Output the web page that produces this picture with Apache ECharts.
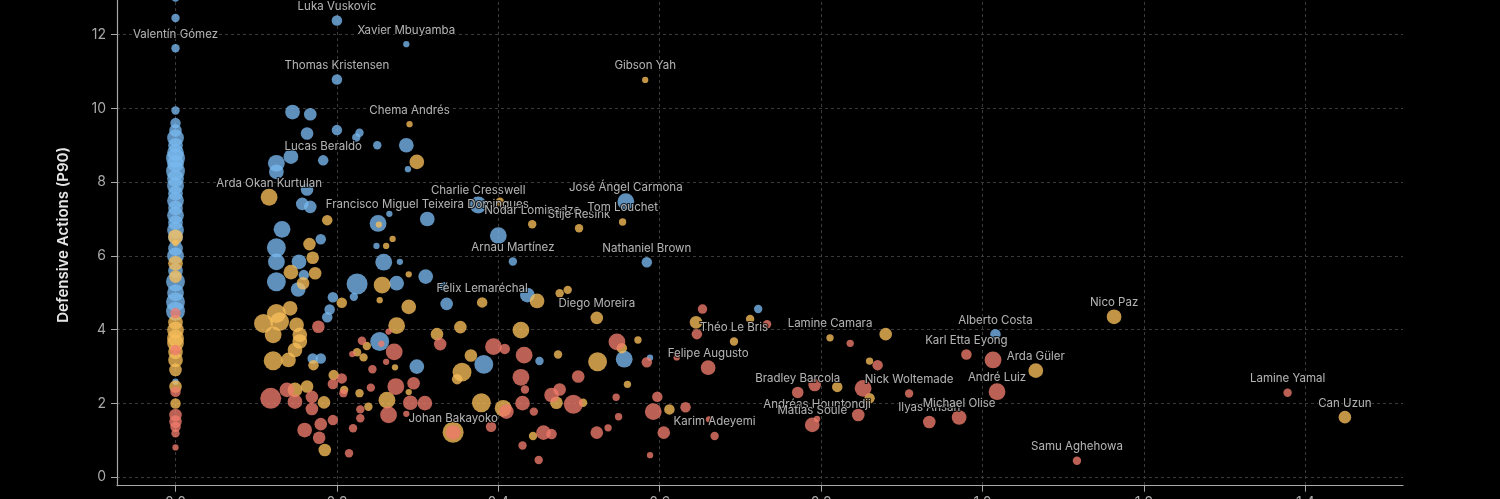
<!DOCTYPE html>
<html>
<head>
<meta charset="utf-8">
<script src="https://cdn.jsdelivr.net/npm/echarts@6/dist/echarts.min.js"></script>
<style>
    html, body { margin: 0; padding: 0; background: #000; width: 1500px; height: 499px; overflow: hidden; }
    .frame { position: absolute; left: 7px; top: -20px; width: 1484px; height: 600px;
             border-left: 1px solid #2a2a2a; border-right: 1px solid #474747; }
    #chartScatter { position: absolute; left: 0; top: -16px; width: 1500px; height: 515px; }
</style>
</head>
<body>
<div class="frame"></div>
<div id="chartScatter"></div>
<script>
    // [x, defensive actions p90, volume]
    var blueData = [
        [0, 13.0, 4], [0, 12.45, 4], [0, 9.94, 4], [0, 9.6, 5], [0, 9.4, 6], [0, 9.2, 8], [0, 9.0, 7],
        [0, 8.8, 8], [0, 8.65, 9], [0, 8.5, 8], [0, 8.3, 9], [0, 8.1, 8], [0, 7.9, 8], [0, 7.7, 7],
        [0, 7.5, 8], [0, 7.3, 7], [0, 7.1, 8], [0, 6.9, 7], [0, 6.7, 8], [0, 6.5, 7], [0, 6.2, 7],
        [0, 6.0, 8], [0, 5.6, 7], [0, 5.3, 9], [0, 5.0, 8], [0, 4.75, 9], [0, 4.5, 9], [0, 2.59, 3],
        [0.145, 9.9, 7], [0.167, 9.84, 6], [0.163, 9.32, 6], [0.2, 9.41, 5], [0.228, 9.34, 4],
        [0.224, 9.21, 4], [0.25, 9.0, 4], [0.286, 9.0, 7], [0.288, 8.35, 3], [0.125, 8.51, 8],
        [0.125, 8.28, 7], [0.143, 8.69, 7], [0.163, 7.8, 6], [0.157, 7.41, 6], [0.167, 7.33, 6],
        [0.251, 6.88, 8], [0.265, 7.14, 3], [0.132, 6.72, 8], [0.18, 6.45, 5], [0.125, 6.22, 9],
        [0.125, 5.84, 8], [0.153, 5.84, 7], [0.125, 5.3, 9], [0.159, 5.48, 5], [0.249, 6.27, 3],
        [0.258, 5.83, 8], [0.278, 5.84, 3], [0.225, 5.24, 10], [0.274, 5.26, 7], [0.152, 5.09, 7],
        [0.221, 4.89, 4], [0.195, 4.88, 5], [0.191, 4.55, 5], [0.188, 4.34, 5], [0.17, 3.22, 5],
        [0.18, 3.22, 5], [0.253, 3.68, 9], [0.299, 3.0, 7], [0.4, 6.55, 8], [0.31, 5.44, 7],
        [0.332, 5.18, 4], [0.336, 4.7, 6], [0.436, 4.94, 7], [0.451, 3.15, 4], [0.556, 3.2, 8],
        [0.382, 3.06, 9], [0.588, 3.24, 3], [0.722, 4.56, 4]
    ];
    var goldData = [
        [0, 6.52, 7], [0, 6.35, 3], [0, 5.8, 7], [0, 5.44, 6], [0, 4.2, 7], [0, 3.99, 8], [0, 3.77, 8],
        [0, 3.64, 8], [0, 3.4, 7], [0, 3.18, 7], [0, 2.91, 6], [0, 2.46, 6], [0, 2.0, 5],
        [0.299, 8.55, 7], [0.188, 6.97, 5], [0.252, 6.85, 3], [0.166, 6.32, 6], [0.261, 6.27, 3],
        [0.269, 6.46, 3], [0.17, 5.95, 6], [0.143, 5.56, 7], [0.173, 5.53, 6], [0.158, 5.26, 6],
        [0.289, 5.5, 3], [0.256, 5.21, 8], [0.253, 4.8, 3], [0.206, 4.73, 5], [0.289, 4.62, 7],
        [0.274, 4.11, 8], [0.109, 4.17, 9], [0.125, 4.44, 9], [0.129, 4.22, 9], [0.142, 4.58, 7],
        [0.15, 4.13, 7], [0.154, 3.86, 7], [0.154, 3.68, 7], [0.148, 3.45, 7], [0.14, 3.18, 7],
        [0.121, 3.16, 9], [0.121, 3.86, 8], [0.171, 3.04, 5], [0.196, 2.77, 5], [0.148, 2.37, 7],
        [0.163, 2.46, 6], [0.184, 2.03, 6], [0.185, 0.74, 6], [0.209, 2.37, 4], [0.228, 2.28, 4],
        [0.239, 1.91, 4], [0.237, 3.56, 4], [0.225, 3.39, 4], [0.233, 3.25, 4], [0.272, 2.98, 3],
        [0.262, 2.09, 8], [0.289, 2.31, 3], [0.402, 7.47, 4], [0.476, 4.99, 4], [0.486, 5.08, 4],
        [0.448, 4.78, 7], [0.353, 4.07, 6], [0.324, 3.88, 6], [0.428, 3.99, 8], [0.474, 3.33, 4],
        [0.523, 3.13, 9], [0.553, 3.5, 5], [0.366, 3.3, 6], [0.355, 2.85, 9], [0.349, 2.66, 5],
        [0.379, 2.02, 9], [0.406, 1.87, 8], [0.472, 2.02, 6], [0.505, 2.02, 4], [0.443, 1.12, 4],
        [0.344, 1.22, 10], [0.573, 3.72, 3.5], [0.645, 4.2, 6], [0.712, 4.29, 4], [0.56, 2.52, 3.5],
        [0.612, 1.84, 5], [0.88, 3.88, 6], [0.86, 3.15, 3.5], [0.82, 2.45, 5], [0.86, 2.14, 5]
    ];
    var redData = [
        [0, 4.45, 5], [0, 3.45, 5], [0, 2.32, 5], [0, 1.69, 6], [0, 1.51, 6], [0, 1.37, 5], [0, 1.19, 4],
        [0, 0.81, 3],
        [0.177, 4.08, 6], [0.206, 2.68, 5], [0.195, 2.53, 5], [0.118, 2.14, 10], [0.138, 2.37, 7],
        [0.148, 2.05, 7], [0.169, 2.18, 6], [0.169, 1.85, 6], [0.195, 1.55, 5], [0.18, 1.44, 6],
        [0.16, 1.28, 7], [0.178, 1.07, 6], [0.215, 0.65, 4], [0.22, 1.33, 4], [0.208, 2.28, 4],
        [0.229, 1.84, 4], [0.229, 1.6, 4], [0.242, 2.43, 4], [0.244, 2.93, 4], [0.231, 3.7, 4],
        [0.219, 3.34, 3], [0.271, 3.4, 8], [0.261, 3.13, 3], [0.264, 3.95, 3], [0.273, 2.46, 8],
        [0.264, 1.69, 8], [0.291, 2.02, 7], [0.295, 2.55, 6], [0.255, 3.62, 3], [0.328, 3.61, 6],
        [0.394, 3.54, 8], [0.408, 3.48, 5], [0.432, 3.31, 8], [0.547, 3.67, 8], [0.428, 2.71, 8],
        [0.433, 2.38, 4], [0.309, 2.01, 7], [0.41, 1.78, 7], [0.43, 2.01, 7], [0.444, 1.78, 4],
        [0.466, 2.23, 7], [0.476, 2.38, 6], [0.493, 1.98, 9], [0.499, 2.73, 6], [0.522, 1.21, 6],
        [0.536, 1.34, 3.5], [0.546, 2.17, 3.5], [0.549, 1.64, 3.5], [0.391, 1.37, 5], [0.456, 1.21, 7],
        [0.466, 1.17, 5], [0.43, 0.86, 4], [0.45, 0.47, 4], [0.286, 1.72, 3], [0.653, 4.56, 4.5],
        [0.646, 3.88, 5], [0.733, 4.15, 4], [0.584, 3.12, 5], [0.597, 2.18, 5], [0.592, 1.78, 8],
        [0.632, 1.9, 5], [0.605, 1.21, 6], [0.661, 1.57, 3], [0.588, 0.6, 3], [0.621, 3.25, 3],
        [0.836, 3.63, 3.5], [0.87, 3.04, 5], [0.792, 2.5, 6], [0.852, 2.41, 8], [0.846, 1.69, 6],
        [1.013, 3.18, 8]
    ];
    // named players: [name, group, x, y, volume]
    var labeled = [
        ['Luka Vuskovic', 'b', 0.2, 12.38, 5],
        ['Xavier Mbuyamba', 'b', 0.286, 11.74, 3],
        ['Valentín Gómez', 'b', 0, 11.63, 4],
        ['Thomas Kristensen', 'b', 0.2, 10.78, 5],
        ['Gibson Yah', 'g', 0.582, 10.77, 3],
        ['Chema Andrés', 'g', 0.29, 9.57, 3],
        ['Lucas Beraldo', 'b', 0.183, 8.59, 5],
        ['Arda Okan Kurtulan', 'g', 0.116, 7.59, 8],
        ['Francisco Miguel Teixeira Domingues', 'b', 0.312, 7.0, 7],
        ['Charlie Cresswell', 'b', 0.375, 7.38, 8],
        ['Nodar Lominadze', 'g', 0.442, 6.86, 4],
        ['Stije Resink', 'g', 0.5, 6.75, 4],
        ['José Ángel Carmona', 'b', 0.558, 7.47, 8],
        ['Tom Louchet', 'g', 0.554, 6.92, 3.5],
        ['Arnau Martínez', 'b', 0.418, 5.85, 4],
        ['Nathaniel Brown', 'b', 0.584, 5.83, 5],
        ['Félix Lemaréchal', 'g', 0.38, 4.74, 5],
        ['Diego Moreira', 'g', 0.522, 4.32, 6],
        ['Théo Le Bris', 'g', 0.692, 3.68, 4],
        ['Lamine Camara', 'g', 0.811, 3.78, 3.5],
        ['Felipe Augusto', 'r', 0.66, 2.97, 7],
        ['Alberto Costa', 'b', 1.016, 3.88, 5],
        ['Karl Etta Eyong', 'r', 0.98, 3.33, 5],
        ['Arda Güler', 'g', 1.066, 2.89, 7],
        ['André Luiz', 'r', 1.018, 2.32, 8],
        ['Bradley Barcola', 'r', 0.771, 2.3, 5.5],
        ['Nick Woltemade', 'r', 0.909, 2.27, 4],
        ['Andréas Hountondji', 'r', 0.795, 1.58, 3],
        ['Matías Soulé', 'r', 0.789, 1.42, 7],
        ['Ilyas Ansah', 'r', 0.934, 1.5, 6],
        ['Michael Olise', 'r', 0.971, 1.62, 7],
        ['Samu Aghehowa', 'r', 1.117, 0.45, 4],
        ['Lamine Yamal', 'r', 1.378, 2.29, 4],
        ['Can Uzun', 'g', 1.449, 1.63, 6],
        ['Nico Paz', 'g', 1.163, 4.35, 7],
        ['Karim Adeyemi', 'r', 0.668, 1.12, 4],
        ['Johan Bakayoko', 'r', 0.344, 1.22, 7]
    ];

    function buildSeries(points, group, color) {
        var data = points.map(function (p) { return { value: p }; });
        labeled.forEach(function (l) {
            if (l[1] === group) {
                data.push({ name: l[0], value: [l[2], l[3], l[4]], label: { show: true } });
            }
        });
        return {
            type: 'scatter',
            data: data,
            symbolSize: function (v) { return v[2] * 2.1; },
            itemStyle: { color: color, opacity: 0.78 },
            label: {
                show: false,
                position: 'inside',
                offset: [0, -14],
                formatter: '{b}',
                color: '#e4e4e4',
                fontSize: 11.5,
                fontFamily: 'Inter',
                textBorderColor: '#000',
                textBorderWidth: 2
            },
            emphasis: { disabled: true },
            silent: true
        };
    }

    var chartScatter = echarts.init(document.getElementById('chartScatter'));
    chartScatter.setOption({
        backgroundColor: '#000',
        animation: false,
        grid: { left: 117, right: 97, top: 0, bottom: 13.3, outerBoundsMode: 'none', containLabel: false },
        xAxis: {
            type: 'value',
            min: -0.0725,
            max: 1.521,
            splitNumber: 8,
            minInterval: 0.2,
            maxInterval: 0.2,
            axisLine: { onZero: false, lineStyle: { color: '#a8a8a8', width: 1.2 } },
            axisTick: { show: true, length: 6, lineStyle: { color: '#a8a8a8' } },
            axisLabel: {
                color: '#a8a8a8', fontSize: 14, fontFamily: 'Inter', margin: 10,
                showMinLabel: false, showMaxLabel: false,
                formatter: function (v) { return v.toFixed(1); }
            },
            splitLine: { show: true, showMaxLine: false, lineStyle: { color: '#3a3a3a', type: [3, 3] } }
        },
        yAxis: {
            type: 'value',
            min: -0.228,
            max: 13.37,
            splitNumber: 7,
            minInterval: 2,
            maxInterval: 2,
            name: 'Defensive Actions (P90)',
            nameLocation: 'middle',
            nameRotate: 90,
            nameGap: 46,
            nameTextStyle: { color: '#e6e6e6', fontSize: 15, fontWeight: 600, fontFamily: 'Inter' },
            axisLine: { show: true, onZero: false, lineStyle: { color: '#a8a8a8', width: 1.2 } },
            axisTick: { show: true, length: 6, lineStyle: { color: '#a8a8a8' } },
            axisLabel: {
                color: '#a8a8a8', fontSize: 14, fontFamily: 'Inter', margin: 11,
                showMinLabel: false, showMaxLabel: false
            },
            splitLine: { show: true, showMaxLine: false, lineStyle: { color: '#3a3a3a', type: [3, 3] } }
        },
        series: [
            buildSeries(blueData, 'b', '#78b8f0'),
            buildSeries(goldData, 'g', '#f7be5a'),
            buildSeries(redData, 'r', '#ef7b6c')
        ]
    });
</script>
</body>
</html>
